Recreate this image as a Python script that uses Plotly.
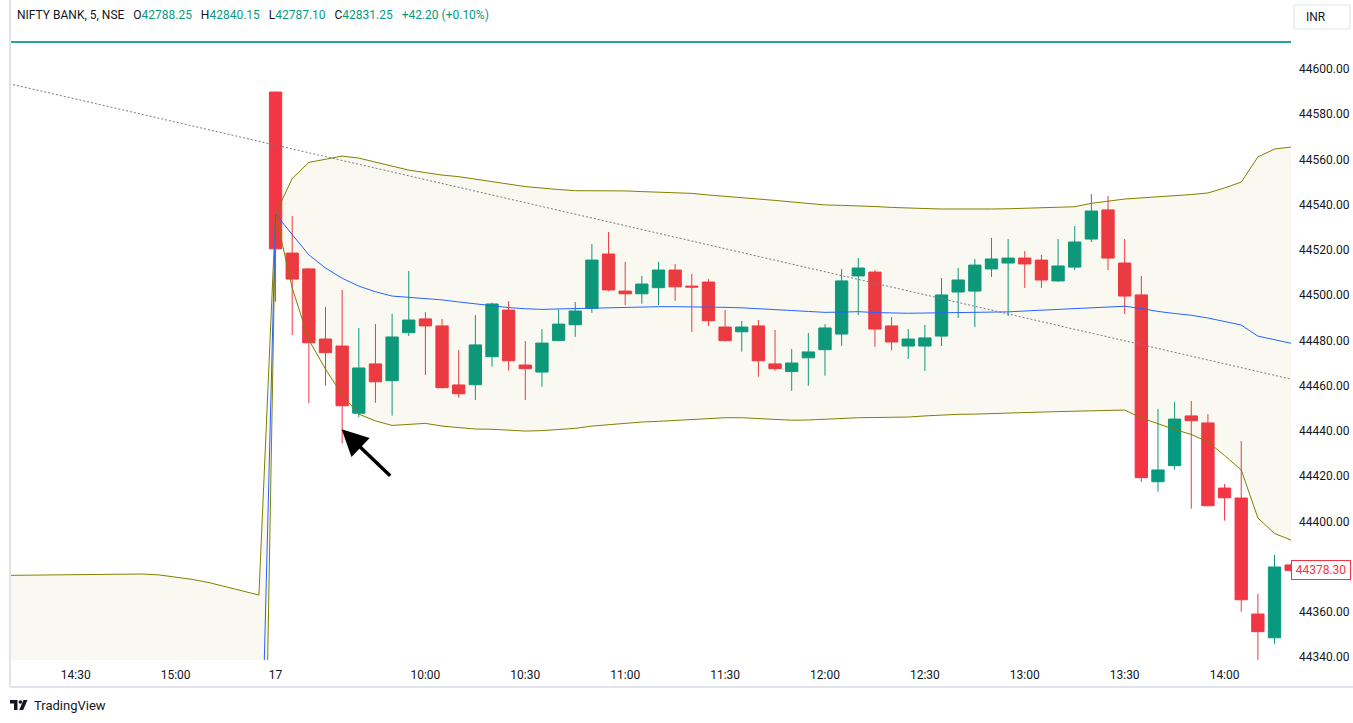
import plotly.graph_objects as go

# ---------------- data ----------------
bar_idx = list(range(62))  # 5-min bars of the 17th session, 09:15 = 0
open_ = [44589.8, 44518.6, 44511.6, 44480.6, 44477.5, 44447.8, 44469.6, 44462.2, 44483.4, 44489.5,
         44486.4, 44460.3, 44460.4, 44472.8, 44493.4, 44469.1, 44466.0, 44479.9, 44486.9, 44494.2,
         44518.2, 44501.8, 44500.6, 44503.3, 44511.1, 44504.0, 44505.8, 44485.9, 44483.8, 44486.4,
         44469.6, 44466.2, 44472.3, 44475.9, 44482.8, 44508.5, 44510.2, 44486.4, 44477.5, 44477.5,
         44481.9, 44501.4, 44501.8, 44511.6, 44514.2, 44516.4, 44515.5, 44506.3, 44512.4, 44524.8,
         44537.7, 44514.2, 44500.1, 44417.5, 44424.6, 44446.6, 44443.5, 44414.7, 44410.3, 44359.0,
         44348.5, 44380.7]
high = [44590.0, 44535.0, 44512.0, 44494.8, 44502.3, 44485.5, 44487.2, 44491.7, 44510.7, 44492.5,
        44489.5, 44475.7, 44491.2, 44496.7, 44497.4, 44479.7, 44485.0, 44493.7, 44497.0, 44522.6,
        44527.9, 44514.7, 44508.5, 44514.7, 44513.8, 44509.4, 44507.1, 44493.4, 44488.6, 44489.0,
        44484.6, 44476.2, 44483.3, 44487.2, 44511.6, 44516.4, 44511.1, 44490.3, 44485.0, 44486.8,
        44507.6, 44512.0, 44516.0, 44525.3, 44524.8, 44519.5, 44517.8, 44524.8, 44530.6, 44544.7,
        44543.8, 44524.8, 44508.5, 44449.7, 44452.8, 44453.2, 44447.4, 44416.5, 44435.5, 44367.9,
        44385.1, 44381.5]
low = [44497.1, 44482.4, 44452.2, 44460.0, 44434.5, 44446.0, 44452.4, 44446.7, 44481.9, 44464.7,
       44458.8, 44454.7, 44453.6, 44468.4, 44466.6, 44453.6, 44459.5, 44479.6, 44481.6, 44492.2,
       44501.8, 44495.6, 44496.2, 44495.6, 44497.5, 44483.8, 44486.4, 44479.6, 44475.0, 44463.9,
       44466.6, 44457.7, 44460.0, 44464.4, 44477.6, 44491.2, 44477.2, 44475.7, 44471.8, 44466.5,
       44477.5, 44489.9, 44485.9, 44508.0, 44490.8, 44503.2, 44503.2, 44505.8, 44511.1, 44523.5,
       44511.1, 44491.7, 44417.5, 44413.1, 44422.8, 44405.6, 44406.6, 44400.3, 44360.0, 44338.7,
       44345.9, 44377.5]
close = [44520.5, 44507.1, 44479.0, 44474.6, 44451.1, 44467.8, 44461.7, 44481.5, 44489.0, 44486.4,
         44459.1, 44456.4, 44478.0, 44496.1, 44471.0, 44467.5, 44478.8, 44487.2, 44493.0, 44515.5,
         44502.3, 44500.6, 44504.9, 44511.1, 44503.7, 44503.6, 44488.7, 44479.9, 44485.9, 44471.0,
         44467.5, 44470.0, 44474.9, 44485.5, 44506.3, 44512.0, 44485.0, 44479.3, 44480.6, 44481.1,
         44500.1, 44506.7, 44513.3, 44516.0, 44516.4, 44513.8, 44506.7, 44512.9, 44523.5, 44537.2,
         44516.4, 44499.6, 44419.3, 44422.7, 44445.2, 44444.5, 44406.9, 44410.4, 44365.3, 44351.2,
         44379.8, 44378.3]

# VWAP with bands, previous session tail (-16..-1) + current session (0..61)
band_idx = list(range(-16, 62))
vwap = [44246.0, 44246.2, 44246.3, 44246.4, 44246.5, 44246.6, 44246.6, 44246.5, 44246.4, 44246.2,
        44245.9, 44245.6, 44245.2, 44244.8, 44244.3, 44243.7,
        44535.9, 44526.8, 44517.8, 44512.0, 44507.5, 44504.0, 44501.5, 44499.6, 44499.0, 44498.6,
        44497.9, 44497.0, 44496.1, 44495.4, 44494.5, 44494.0, 44493.7, 44493.9, 44494.1, 44494.2,
        44494.4, 44494.7, 44494.8, 44494.9, 44494.9, 44494.9, 44494.8, 44494.6, 44494.4, 44494.1,
        44493.7, 44493.2, 44492.8, 44492.4, 44492.5, 44492.7, 44492.3, 44492.0, 44492.0, 44492.1,
        44492.2, 44492.3, 44492.4, 44492.4, 44492.6, 44493.0, 44493.4, 44493.8, 44494.2, 44494.6,
        44495.0, 44495.1, 44494.1, 44492.8, 44491.9, 44491.1, 44489.9, 44488.4, 44486.8, 44481.9,
        44480.2, 44478.7]
upper = [44376.1, 44376.2, 44376.3, 44376.4, 44376.5, 44376.7, 44376.7, 44376.7, 44376.7, 44376.3,
         44375.4, 44374.3, 44372.9, 44371.0, 44369.0, 44367.4,
         44535.9, 44551.6, 44558.7, 44560.2, 44561.5, 44560.6, 44558.9, 44556.9, 44555.3, 44554.2,
         44553.1, 44552.4, 44551.4, 44550.2, 44549.1, 44548.0, 44547.2, 44546.7, 44546.2, 44546.2,
         44546.2, 44546.1, 44545.8, 44545.5, 44545.3, 44545.0, 44544.3, 44543.6, 44543.2, 44542.5,
         44541.9, 44541.2, 44540.3, 44539.9, 44539.7, 44539.6, 44539.2, 44538.8, 44538.4, 44538.3,
         44538.1, 44538.0, 44538.0, 44538.1, 44538.2, 44538.4, 44538.5, 44538.8, 44539.1, 44540.6,
         44541.6, 44542.5, 44543.0, 44543.4, 44544.1, 44544.5, 44545.2, 44547.4, 44550.0, 44561.1,
         44564.6, 44565.5]
lower = [44116.0, 44116.2, 44116.3, 44116.4, 44116.5, 44116.5, 44116.5, 44116.3, 44116.1, 44116.1,
         44116.4, 44116.9, 44117.5, 44118.6, 44119.6, 44120.0,
         44535.9, 44503.2, 44480.2, 44467.3, 44455.9, 44447.4, 44444.4, 44442.4, 44442.8, 44443.3,
         44442.1, 44441.3, 44440.8, 44440.7, 44440.4, 44439.9, 44440.1, 44440.6, 44441.1, 44442.1,
         44442.8, 44443.4, 44443.9, 44444.2, 44444.6, 44445.0, 44445.5, 44445.8, 44445.8, 44445.5,
         44445.0, 44444.7, 44444.8, 44445.2, 44445.7, 44445.8, 44445.9, 44446.0, 44446.1, 44446.6,
         44447.0, 44447.3, 44447.4, 44447.7, 44447.9, 44448.1, 44448.3, 44448.5, 44448.6, 44448.8,
         44449.0, 44449.2, 44445.7, 44443.0, 44440.6, 44438.4, 44435.1, 44429.1, 44422.7, 44401.5,
         44394.6, 44391.7]

# drawings
trend_x = [-16, 61.5]
trend_y = [44593.5, 44462.0]
hline_level = 44611.9
last_price = 44378.30

tick_pos = [-12, -6, 0, 9, 15, 21, 27, 33, 39, 45, 51, 57]
tick_text = ["14:30", "15:00", "17", "10:00", "10:30", "11:00", "11:30", "12:00", "12:30", "13:00", "13:30", "14:00"]
# 44380 is hidden behind the last-price label in the reference
price_ticks = [44340, 44360, 44400, 44420, 44440, 44460, 44480, 44500, 44520, 44540, 44560, 44580, 44600]

# ---------------- layout constants ----------------
W, H = 1353, 723
PL, PR, PT, PB = 10, 1291, 2, 660
FONT = "Roboto, 'Open Sans', sans-serif"
TXT = "#131722"
GREEN = "#089981"
RED = "#F23645"
OLIVE = "#808000"


def px(x):
    return (x - PL) / (PR - PL)


def py(y):
    return (PB - y) / (PB - PT)


fig = go.Figure()

# bands (fill between lower and upper)
fig.add_trace(go.Scatter(x=band_idx, y=lower, mode="lines",
                         line=dict(color=OLIVE, width=1), hoverinfo="skip", showlegend=False))
fig.add_trace(go.Scatter(x=band_idx, y=upper, mode="lines", fill="tonexty",
                         fillcolor="rgba(128,128,0,0.05)",
                         line=dict(color=OLIVE, width=1), hoverinfo="skip", showlegend=False))
fig.add_trace(go.Scatter(x=band_idx, y=vwap, mode="lines",
                         line=dict(color="#2962FF", width=1), hoverinfo="skip", showlegend=False))

fig.add_trace(go.Candlestick(
    x=bar_idx, open=open_, high=high, low=low, close=close,
    increasing=dict(line=dict(color=GREEN, width=1), fillcolor=GREEN),
    decreasing=dict(line=dict(color=RED, width=1), fillcolor=RED),
    whiskerwidth=0, showlegend=False, hoverinfo="skip"))

# dotted trend line (drawing, on top)
fig.add_trace(go.Scatter(x=trend_x, y=trend_y, mode="lines",
                         line=dict(color="#787B86", width=1, dash="2px,2px"),
                         hoverinfo="skip", showlegend=False))

shapes = [
    # horizontal teal line
    dict(type="line", xref="paper", yref="y", x0=0, x1=1, y0=hline_level, y1=hline_level,
         line=dict(color="#26a69a", width=2)),
    # frame
    dict(type="line", xref="paper", yref="paper", x0=px(10), x1=px(10), y0=py(0), y1=py(687),
         line=dict(color="#e0e3eb", width=2)),
    dict(type="line", xref="paper", yref="paper", x0=px(10), x1=px(1353), y0=py(687), y1=py(687),
         line=dict(color="#e0e3eb", width=2)),
    # INR button
    dict(type="rect", xref="paper", yref="paper", x0=px(1294), x1=px(1350), y0=py(29), y1=py(5),
         line=dict(color="#e0e3eb", width=1), fillcolor="white"),
    # TradingView logo
    dict(type="path", xref="paper", yref="paper",
         path=f"M {px(10)},{py(700)} L {px(17.5)},{py(700)} L {px(17.5)},{py(710)} L {px(14)},{py(710)} "
              f"L {px(14)},{py(703.5)} L {px(10)},{py(703.5)} Z",
         fillcolor="#131722", line=dict(width=0)),
    dict(type="circle", xref="paper", yref="paper", x0=px(18.6), x1=px(22.2), y0=py(703.8), y1=py(700.2),
         fillcolor="#131722", line=dict(width=0)),
    dict(type="path", xref="paper", yref="paper",
         path=f"M {px(23.5)},{py(700)} L {px(27.5)},{py(700)} L {px(23.2)},{py(710)} L {px(19.2)},{py(710)} Z",
         fillcolor="#131722", line=dict(width=0)),
]

annotations = []


def txt(x, y, s, color=TXT, size=13, xanchor="left"):
    annotations.append(dict(xref="paper", yref="paper", x=px(x), y=py(y), text=s, showarrow=False,
                            xanchor=xanchor, yanchor="middle", font=dict(family=FONT, size=size, color=color)))


# header legend (single flowing line)
g = lambda s: f"<span style='color:{GREEN}'>{s}</span>"
sp = "&nbsp;&nbsp;&nbsp;"
header = ("NIFTY BANK, 5, NSE" + sp + "O" + g("42788.25") + sp + "H" + g("42840.15") +
          sp + "L" + g("42787.10") + sp + "C" + g("42831.25") + sp + g("+42.20 (+0.10%)"))
txt(15, 15, header, size=12)

# INR
txt(1304, 17, "INR", size=12)

# TradingView footer
txt(32, 705, "TradingView", size=13)

# last price label
annotations.append(dict(xref="paper", yref="y", x=px(1291), y=last_price, text="44378.30",
                        showarrow=False, xanchor="left", yanchor="middle",
                        font=dict(family=FONT, size=12, color=RED),
                        bgcolor="white", bordercolor=RED, borderwidth=1, borderpad=2, width=54))

# arrow
annotations.append(dict(xref="x", yref="y", x=3.97, y=44440.7, ax=50, ay=48, text="",
                        showarrow=True, arrowhead=2, arrowsize=1.5, arrowwidth=3.5, arrowcolor="#000000"))

fig.update_layout(
    width=W, height=H,
    margin=dict(l=PL, r=W - PR, t=PT, b=H - PB),
    paper_bgcolor="white", plot_bgcolor="white",
    boxgap=0.26, boxgroupgap=0,
    shapes=shapes, annotations=annotations,
    font=dict(family=FONT, color=TXT),
    showlegend=False,
    hovermode=False,
)
fig.update_xaxes(range=[-15.95, 60.99], showgrid=False, zeroline=False, showline=False,
                 rangeslider=dict(visible=False), tickvals=tick_pos, ticktext=tick_text,
                 ticks="", ticklabelstandoff=6, tickfont=dict(size=12, color=TXT, family=FONT))
fig.update_yaxes(range=[44338.67, 44629.63], side="right", showgrid=False, zeroline=False,
                 showline=False, tickvals=price_ticks, ticktext=[f"{v:.2f}" for v in price_ticks],
                 ticks="", ticklabelstandoff=7, tickfont=dict(size=12, color=TXT, family=FONT))

fig.write_html("out.html", config={"displayModeBar": False})

# remove default page margin so the figure sits at the window's top-left corner
with open("out.html", "r", encoding="utf-8") as f:
    html = f.read()
html = html.replace("<head>", "<head><style>html,body{margin:0;padding:0;overflow:hidden;}</style>", 1)
with open("out.html", "w", encoding="utf-8") as f:
    f.write(html)
